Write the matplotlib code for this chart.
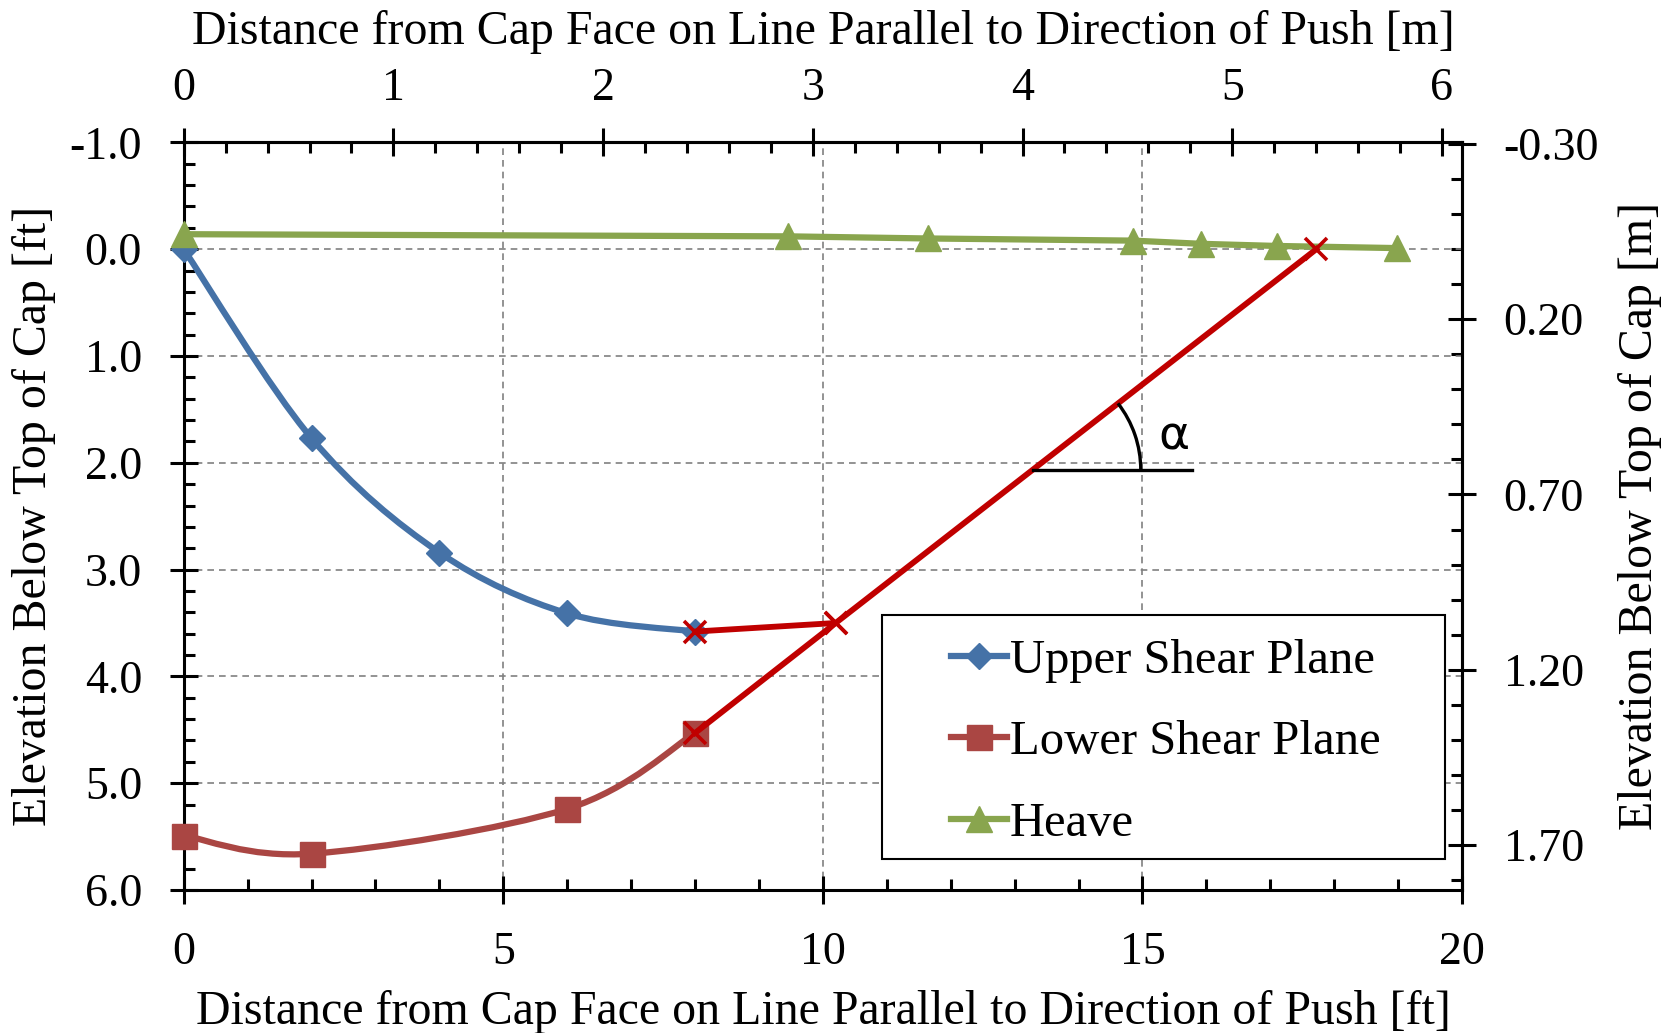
import numpy as np
import matplotlib
matplotlib.use("Agg")
import matplotlib.pyplot as plt
from matplotlib.path import Path
from matplotlib.patches import PathPatch, Rectangle, Arc
from matplotlib.lines import Line2D
from matplotlib.ticker import MultipleLocator, FixedLocator, FormatStrFormatter
from matplotlib.transforms import ScaledTranslation

plt.rcParams['font.family'] = ['Liberation Serif', 'DejaVu Serif']

# data (ft)
upper_x = [0, 2, 4, 6, 8]
upper_y = [0.0, 1.77, 2.84, 3.41, 3.58]

lower_x = [0, 2, 6, 8]
lower_y = [5.49, 5.66, 5.24, 4.53]

heave_x = [0, 9.46, 11.65, 14.85, 15.92, 17.1, 18.98]
heave_y = [-0.14, -0.12, -0.10, -0.08, -0.05, -0.03, -0.01]

# failure surface (red)
fail_x = [8, 10.2, 17.72]
fail_y = [4.53, 3.50, 0.0]
link_x = [8, 10.2]
link_y = [3.58, 3.50]

alpha_y = 2.065        # horizontal reference for the angle
alpha_x_end = 15.77

FT2M = 0.3048

c_blue = '#4572A7'
c_brown = '#AA4643'
c_green = '#89A54E'
c_red = '#C00000'


def smooth_path(xs, ys):
    # excel-like smoothed line (catmull-rom as bezier)
    pts = np.column_stack([xs, ys]).astype(float)
    n = len(pts)
    verts = [pts[0]]
    codes = [Path.MOVETO]
    for i in range(n - 1):
        p0 = pts[i - 1] if i > 0 else pts[i]
        p1 = pts[i]
        p2 = pts[i + 1]
        p3 = pts[i + 2] if i + 2 < n else pts[i + 1]
        verts += [p1 + (p2 - p0) / 6, p2 - (p3 - p1) / 6, p2]
        codes += [Path.CURVE4] * 3
    return Path(verts, codes)


fig = plt.figure(figsize=(16.79, 10.33), dpi=100)
ax = fig.add_axes([0.1094, 0.1384, 0.7614, 0.7238])

ax.set_xlim(0, 20)
ax.set_ylim(6.0, -1.0)

lw = 4.5
ms_d, ms_s, ms_t = 13.7, 18, 19
ax.add_patch(PathPatch(smooth_path(upper_x, upper_y), fill=False, ec=c_blue, lw=lw, zorder=3))
ax.plot(upper_x, upper_y, ls='none', marker='D', ms=ms_d, color=c_blue, zorder=3,
        clip_on=False)

ax.add_patch(PathPatch(smooth_path(lower_x, lower_y), fill=False, ec=c_brown, lw=lw, zorder=3))
ax.plot(lower_x, lower_y, ls='none', marker='s', ms=ms_s, color=c_brown, zorder=3,
        clip_on=False)

ax.plot(heave_x, heave_y, color=c_green, lw=lw, marker='^', ms=ms_t, zorder=3,
        clip_on=False)

ax.plot(fail_x, fail_y, color=c_red, lw=4.2, zorder=4)
ax.plot(link_x, link_y, color=c_red, lw=4.2, zorder=4)
ax.plot(fail_x + link_x, fail_y + link_y, ls='none', marker='x', ms=16,
        mew=2.6, color=c_red, zorder=5)

# angle annotation
ax.figure.canvas.draw()
cx = np.interp(alpha_y, fail_y[::-1], fail_x[::-1])
ax.plot([cx, alpha_x_end], [alpha_y, alpha_y], color='black', lw=2.4, zorder=4)
p0 = ax.transData.transform((fail_x[0], fail_y[0]))
p1 = ax.transData.transform((fail_x[-1], fail_y[-1]))
ang = np.degrees(np.arctan2(p1[1] - p0[1], p1[0] - p0[0]))
arc = Arc((0, 0), 2 * 1.08, 2 * 1.08, theta1=0, theta2=ang, color='black', lw=2.4,
          transform=fig.dpi_scale_trans + ScaledTranslation(cx, alpha_y, ax.transData),
          zorder=4)
ax.add_patch(arc)
ax.text(15.49, 1.76, 'α', fontsize=34, family='DejaVu Sans', ha='center', va='center')

# grid
ax.xaxis.set_major_locator(MultipleLocator(5))
ax.xaxis.set_minor_locator(MultipleLocator(1))
ax.yaxis.set_major_locator(MultipleLocator(1))
ax.yaxis.set_minor_locator(MultipleLocator(0.2))
ax.yaxis.set_major_formatter(FormatStrFormatter('%.1f'))
ax.grid(True, which='major', color='#808080', ls=(0, (4, 3)), lw=1.2, zorder=1)
ax.set_axisbelow(True)

tick_kw = dict(labelsize=33, width=2.2, color='black')
ax.tick_params(which='major', direction='inout', length=20, pad=20, **tick_kw)
ax.tick_params(which='minor', direction='in', length=8, width=2.2)
ax.tick_params(top=False, right=False, which='both')
for s in ax.spines.values():
    s.set_linewidth(2.2)

# secondary axes in metres
secx = ax.secondary_xaxis('top', functions=(lambda x: x * FT2M, lambda x: x / FT2M))
secx.xaxis.set_major_locator(MultipleLocator(1))
secx.xaxis.set_minor_locator(MultipleLocator(0.2))
secx.tick_params(which='major', direction='inout', length=20, pad=13, **tick_kw)
secx.tick_params(which='minor', direction='in', length=8, width=2.2)

secy = ax.secondary_yaxis('right', functions=(lambda y: y * FT2M, lambda y: y / FT2M))
secy.yaxis.set_major_locator(FixedLocator([-0.30, 0.20, 0.70, 1.20, 1.70]))
secy.yaxis.set_minor_locator(MultipleLocator(0.1))
secy.yaxis.set_major_formatter(FormatStrFormatter('%.2f'))
secy.tick_params(which='major', direction='inout', length=20, pad=20, **tick_kw)
secy.tick_params(which='minor', direction='in', length=8, width=2.2)
for sa in (secx, secy):
    for s in sa.spines.values():
        s.set_linewidth(2.2)

lab_fs = 34.5
ax.set_xlabel('Distance from Cap Face on Line Parallel to Direction of Push [ft]',
              fontsize=lab_fs, va='center')
ax.xaxis.set_label_coords(0.5, -0.163)
ax.set_ylabel('Elevation Below Top of Cap [ft]', fontsize=lab_fs, va='center')
ax.yaxis.set_label_coords(-0.117, 0.5)
secx.set_xlabel('Distance from Cap Face on Line Parallel to Direction of Push [m]',
                fontsize=lab_fs, va='center')
secx.xaxis.set_label_coords(0.5, 1.148, transform=ax.transAxes)
secy.set_ylabel('Elevation Below Top of Cap [m]', fontsize=lab_fs, va='center',
                rotation=90)
secy.yaxis.set_label_coords(1.139, 0.5, transform=ax.transAxes)

# legend
ax.add_patch(Rectangle((0.546, 0.0418), 0.4407, 0.3265, transform=ax.transAxes,
                       fc='white', ec='black', lw=1.5, zorder=6))
handles = [
    Line2D([], [], color=c_blue, lw=lw, marker='D', ms=ms_d),
    Line2D([], [], color=c_brown, lw=lw, marker='s', ms=ms_s),
    Line2D([], [], color=c_green, lw=lw, marker='^', ms=ms_t),
]
leg = ax.legend(handles, ['Upper Shear Plane', 'Lower Shear Plane', 'Heave'],
                loc='upper left', bbox_to_anchor=(0.6003, 0.336), frameon=False,
                fontsize=35, borderpad=0, borderaxespad=0, handlelength=1.15,
                handletextpad=0.06, labelspacing=0.77)
leg.set_zorder(7)

fig.savefig('out.png', dpi=100)
